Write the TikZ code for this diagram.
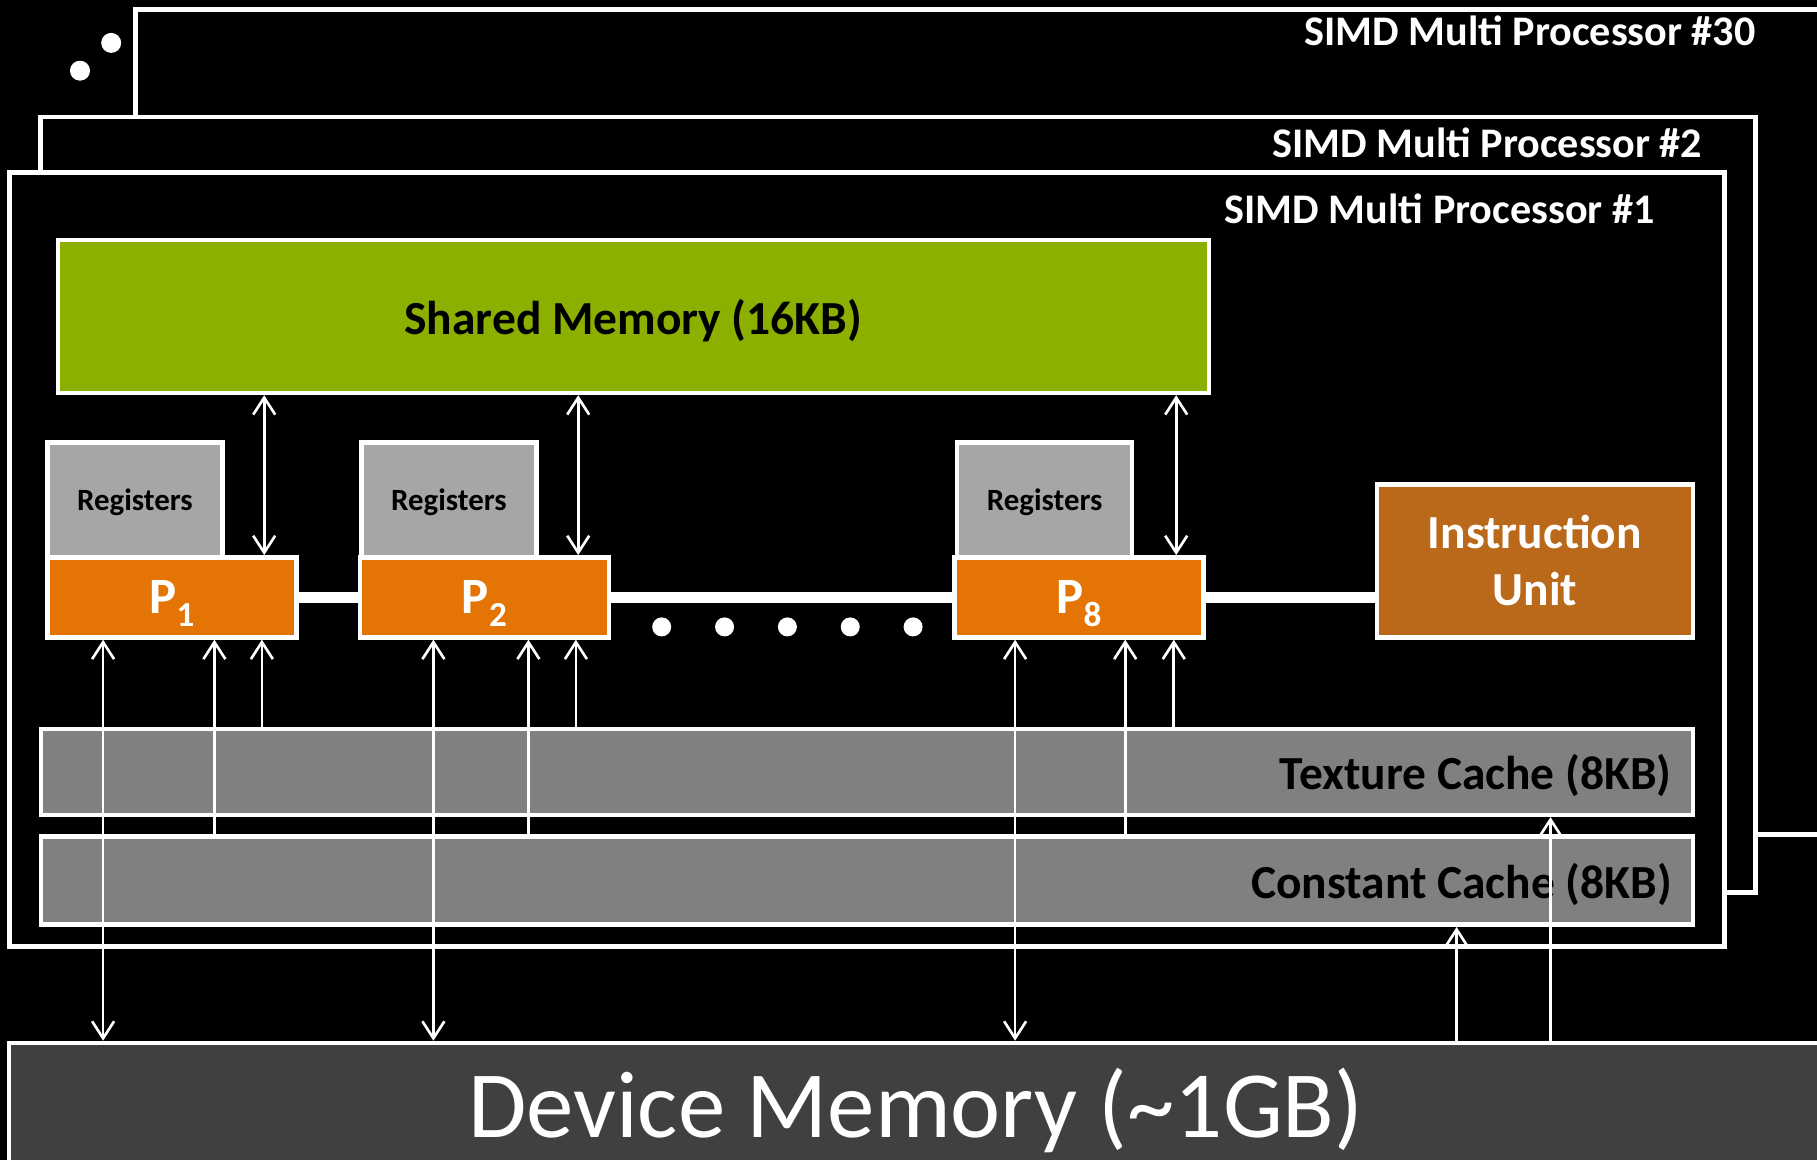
\documentclass[tikz,border=0pt]{standalone}
\usepackage{fontspec}
\setmainfont{Carlito}
\usepackage{xcolor}
\usetikzlibrary{arrows.meta}
\definecolor{smgreen}{RGB}{140,176,0}
\definecolor{porange}{RGB}{228,116,4}
\definecolor{iubrown}{RGB}{186,105,26}
\definecolor{reggray}{RGB}{166,166,166}
\definecolor{cachegray}{RGB}{128,128,128}
\definecolor{dmgray}{RGB}{64,64,64}

\begin{document}
\begin{tikzpicture}[x=.1mm, y=-.1mm, line width=1.3pt,
    >={Straight Barb[length=1.7mm,width=2.2mm]},
    frame/.style={draw=white, fill=black},
    blk/.style 2 args={draw=white, inner sep=0pt, minimum width=#1, minimum height=#2},
    mplabel/.style={anchor=east, inner sep=0pt, text=white, font=\fontsize{12}{14}\selectfont\bfseries},
    big/.style={font=\fontsize{13.5}{16.2}\selectfont\bfseries},
    io/.style={white, line width=.75pt},
    bus/.style={white, line width=3.3pt}]
    \useasboundingbox (0,0) rectangle (1817,1160);
    \clip (0,0) rectangle (1817,1160);
    \fill[black] (0,0) rectangle (1817,1160);
    \draw[frame] (135.6,9.3) rectangle (1850,834.3);
    \node[mplabel] (mp30) at (1758,31) {SIMD Multi Processor \#30};
    \draw[frame] (40.6,117) rectangle (1755.6,892.3);
    \node[mplabel] (mp2) at (1704.6,142.5) {SIMD Multi Processor \#2};
    \draw[frame] (9.3,172.7) rectangle (1724.3,946.7);
    \node[mplabel] (mp1) at (1657,208.6) {SIMD Multi Processor \#1};
    \fill[white] (111.2,42.9) circle[radius=1mm] (80,70.7) circle[radius=1mm];
    \node[blk={115.1mm}{15.3mm}, fill=smgreen, big, text depth=0pt] (sm) at (633.3,316.4) {Shared Memory (16KB)};
    \foreach \r/\x in {reg1/135, reg2/449, reg3/1044.7}
        \node[blk={17.5mm}{11.5mm}, fill=reggray, text depth=0pt, font=\fontsize{8.8}{10}\selectfont\bfseries] (\r) at (\x,500) {Registers};
    \foreach \p/\x/\n in {p1/172/1, p2/484.4/2, p8/1078.9/8}
        \node[blk={24.9mm}{8mm}, fill=porange, text=white, text depth=0pt, font=\fontsize{14.5}{17}\selectfont\bfseries] (\p) at (\x,597.4) {P\raisebox{-3.5pt}{\fontsize{10}{12}\selectfont\n}};
    \node[blk={31.6mm}{15.3mm}, fill=iubrown, text=white, big, align=center] (iu) at (1534.8,560.9) {Instruction\\Unit};
    \node[blk={165.2mm}{8.6mm}, fill=cachegray, big, text depth=0pt, text width=161mm, align=flush right] (tc) at (866.8,771.8) {Texture Cache (8KB)};
    \node[blk={165.2mm}{8.8mm}, fill=cachegray, big, text depth=0pt, text width=161mm, align=flush right] (cc) at (866.8,880.7) {Constant Cache (8KB)};
    \node[blk={181.3mm}{13.4mm}, fill=dmgray, text=white, font=\fontsize{27}{32}\selectfont] (dm) at (915.6,1110) {Device Memory (\textasciitilde1GB)};
    \draw[bus] (p1.east) -- (p2.west) (p2.east) -- (p8.west) (p8.east) -- (p8.east -| iu.west);
    \foreach \i in {0,...,4}
        \fill[white] (661.7+62.85*\i,626.9) circle[radius=.95mm];
    \foreach \p/\a/\b/\c/\d in {p1/264.2/103.1/214.4/261.9, p2/578.2/433.4/528.4/575.9, p8/1176.2/1015.1/1125.2/1173.8} {
        \coordinate (xa) at (\a,0);
        \coordinate (xb) at (\b,0);
        \coordinate (xc) at (\c,0);
        \coordinate (xd) at (\d,0);
        \draw[io,<->] (sm.south -| xa) -- (\p.north -| xa);
        \draw[io,<->] (\p.south -| xb) -- (dm.north -| xb);
        \draw[io,->] (cc.north -| xc) -- (\p.south -| xc);
        \draw[io,->] (tc.north -| xd) -- (\p.south -| xd);
    }
    \coordinate (xe) at (1456.6,0);
    \coordinate (xf) at (1550.5,0);
    \draw[io,->] (dm.north -| xe) -- (cc.south -| xe);
    \draw[io,->] (dm.north -| xf) -- (tc.south -| xf);
\end{tikzpicture}
\end{document}
